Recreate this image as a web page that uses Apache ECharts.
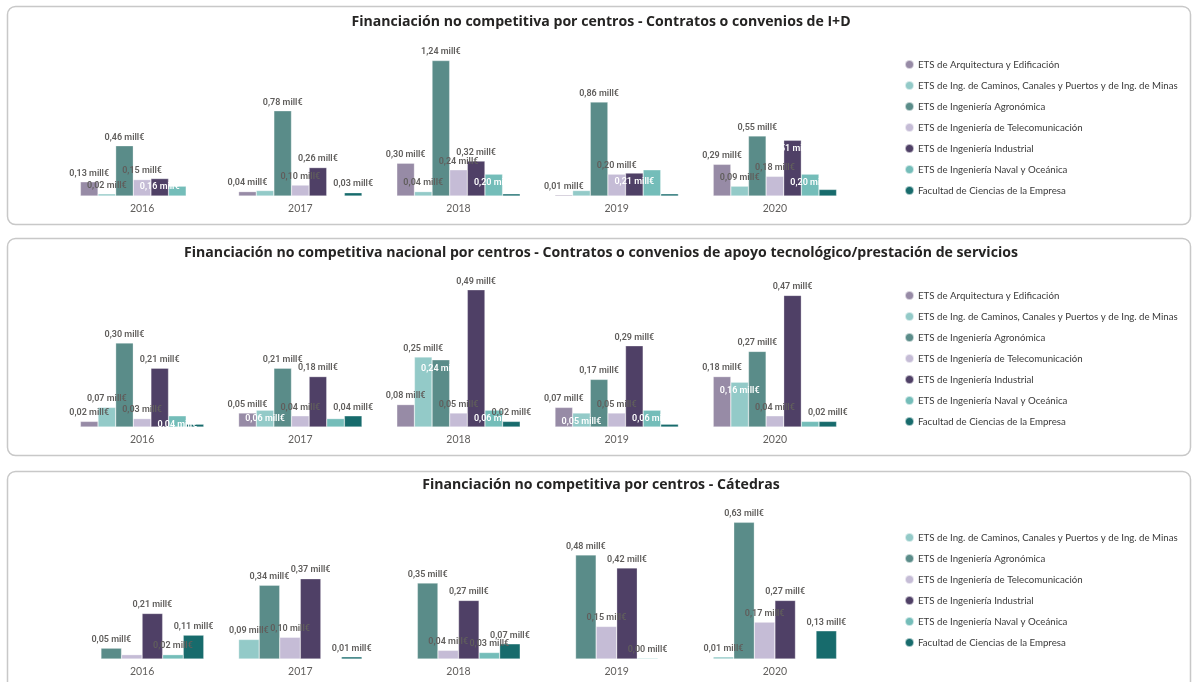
<!DOCTYPE html>
<html>
<head>
<meta charset="utf-8">
<script src="https://cdn.jsdelivr.net/npm/echarts@6/dist/echarts.min.js"></script>
<style>
html,body{margin:0;padding:0;background:#fff;}
#main{width:1192px;height:682px;}
</style>
</head>
<body>
<div id="main"></div>
<script>
// ---------- DATA ----------
const years = ['2016', '2017', '2018', '2019', '2020'];

const centros = [
  'ETS de Arquitectura y Edificación',
  'ETS de Ing. de Caminos, Canales y Puertos y de Ing. de Minas',
  'ETS de Ingeniería Agronómica',
  'ETS de Ingeniería de Telecomunicación',
  'ETS de Ingeniería Industrial',
  'ETS de Ingeniería Naval y Oceánica',
  'Facultad de Ciencias de la Empresa'
];

const titles = [
  'Financiación no competitiva por centros - Contratos o convenios de I+D',
  'Financiación no competitiva nacional por centros - Contratos o convenios de apoyo tecnológico/prestación de servicios',
  'Financiación no competitiva por centros - Cátedras'
];

// Panel 1: Contratos o convenios de I+D (mill€)
const arq1 = [0.13, 0.04, 0.30, 0.01, 0.29];
const cam1 = [0.02, 0.05, 0.04, 0.05, 0.09];
const agr1 = [0.46, 0.78, 1.24, 0.86, 0.55];
const tel1 = [0.15, 0.10, 0.24, 0.20, 0.18];
const ind1 = [0.16, 0.26, 0.32, 0.21, 0.51];
const nav1 = [0.09, null, 0.20, 0.24, 0.20];
const fac1 = [null, 0.03, 0.02, 0.02, 0.06];

// Panel 2: apoyo tecnológico / prestación de servicios (mill€)
const arq2 = [0.02, 0.05, 0.08, 0.07, 0.18];
const cam2 = [0.07, 0.06, 0.25, 0.05, 0.16];
const agr2 = [0.30, 0.21, 0.24, 0.17, 0.27];
const tel2 = [0.03, 0.04, 0.05, 0.05, 0.04];
const ind2 = [0.21, 0.18, 0.49, 0.29, 0.47];
const nav2 = [0.04, 0.03, 0.06, 0.06, 0.02];
const fac2 = [0.01, 0.04, 0.02, 0.01, 0.02];

// Panel 3: Cátedras (mill€) — no Arquitectura
const cam3 = [null, 0.09, null, null, 0.01];
const agr3 = [0.05, 0.34, 0.35, 0.48, 0.63];
const tel3 = [0.02, 0.10, 0.04, 0.15, 0.17];
const ind3 = [0.21, 0.37, 0.27, 0.42, 0.27];
const nav3 = [0.02, null, 0.03, 0.004, null];
const fac3 = [0.11, 0.01, 0.07, null, 0.13];

// ---------- PRESENTATION ----------
const colors = ['#978BA6', '#93CAC8', '#5A8C89', '#C5BCD6', '#4F4066', '#74BDB9', '#176B6C'];

// label modes per bar: t = above, i = inside (white), - = hidden
const panels = [
  { series: [arq1, cam1, agr1, tel1, ind1, nav1, fac1], idx: [0,1,2,3,4,5,6],
    modes: ['ttttt', 't-t-t', 'ttttt', 'ttttt', 'ittii', '--i-i', '-t---'],
    top: 54, height: 142, max: 1.3, titleY: 22, legendTop: 54 },
  { series: [arq2, cam2, agr2, tel2, ind2, nav2, fac2], idx: [0,1,2,3,4,5,6],
    modes: ['ttttt', 'titii', 'ttitt', 'ttttt', 'ttttt', 'i-ii-', '-tt-t'],
    top: 287, height: 140, max: 0.5, titleY: 253, legendTop: 285 },
  { series: [cam3, agr3, tel3, ind3, nav3, fac3], idx: [1,2,3,4,5,6],
    modes: ['-t--t', 'ttttt', '-tttt', 'ttttt', 't-tt-', 'ttt-t'],
    top: 518, height: 141, max: 0.65, titleY: 485, legendTop: 527 }
];

const fmt = v => v.toFixed(2).replace('.', ',') + ' mill€';

const grids = [], xAxes = [], yAxes = [], series = [], legends = [], graphics = [];
const boxes = [[7, 6, 1183, 218], [7, 238, 1183, 217], [7, 471, 1183, 240]];
boxes.forEach(b => graphics.push({
  type: 'rect', silent: true, z: -10,
  shape: { x: b[0] + 0.5, y: b[1] + 0.5, width: b[2], height: b[3], r: 8 },
  style: { fill: '#fff', stroke: '#c8c8c8', lineWidth: 1.5 }
}));

panels.forEach((p, pi) => {
  grids.push({ left: 63, width: 791, top: p.top, height: p.height });
  xAxes.push({
    type: 'category', gridIndex: pi, data: years,
    axisLine: { show: false }, axisTick: { show: false },
    axisLabel: { color: '#605E5C', fontSize: 10.5, fontFamily: 'Lato', margin: 7 }
  });
  yAxes.push({ type: 'value', gridIndex: pi, min: 0, max: p.max, show: false, splitLine: { show: false } });
  graphics.push({
    type: 'text', x: 601, y: p.titleY, silent: true,
    style: { text: titles[pi], align: 'center', verticalAlign: 'middle',
      font: 'bold 14.1px "Open Sans", sans-serif', fill: '#252423' }
  });
  const names = [];
  p.series.forEach((arr, si) => {
    const ci = p.idx[si];
    names.push(centros[ci]);
    const mode = p.modes[si];
    series.push({
      type: 'bar', name: centros[ci], xAxisIndex: pi, yAxisIndex: pi,
      barGap: '0%', barCategoryGap: '22%',
      itemStyle: { color: colors[ci], borderColor: 'rgba(255,255,255,0.6)', borderWidth: 0.5 },
      data: arr.map((v, k) => {
        if (v === null) return null;
        const m = mode[k];
        let label;
        if (m === 't') label = { show: true, position: 'top', distance: 4, color: '#605E5C' };
        else if (m === 'i') label = { show: true, position: 'insideTop', distance: 4, color: '#ffffff' };
        else label = { show: false };
        return { value: v, label };
      }),
      label: { formatter: q => fmt(q.value), fontSize: 9, fontWeight: 600, fontFamily: 'Roboto' },
      emphasis: { disabled: true }
    });
  });
  legends.push({
    orient: 'vertical', left: 899, top: p.legendTop, data: names,
    icon: 'circle', itemWidth: 9, itemHeight: 9, itemGap: 10,
    selectedMode: false,
    textStyle: { fontSize: 9.7, color: '#3a3a3a', fontFamily: 'Lato', padding: [0, 0, 0, -1] }
  });
});

const chart = echarts.init(document.getElementById('main'), null, { renderer: 'canvas' });
chart.setOption({
  animation: false,
  grid: grids, xAxis: xAxes, yAxis: yAxes, series: series,
  legend: legends, graphic: graphics
});
</script>
</body>
</html>
